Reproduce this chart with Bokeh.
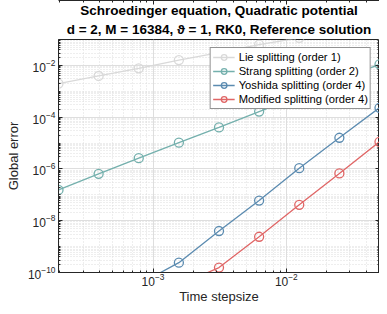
from bokeh.plotting import figure
from bokeh.models import Title, FixedTicker, LogAxis, Legend, LegendItem, Range1d
from bokeh.embed import file_html
from bokeh.resources import INLINE

# ---- data ----
dt = [0.05 / 2**8, 0.05 / 2**7, 0.05 / 2**6, 0.05 / 2**5, 0.05 / 2**4,
      0.05 / 2**3, 0.05 / 2**2, 0.05 / 2**1, 0.05]
lie = [1.98e-3, 3.9e-3, 7.7e-3, 1.6e-2, 3.1e-2, 6.3e-2, 1.15e-1, 2.0e-1, 3.5e-1]
strang = [1.55e-7, 6.5e-7, 2.6e-6, 1.03e-5, 4.0e-5, 1.65e-4, 6.6e-4, 2.7e-3, 1.1e-2]
yoshida = [3e-12, 9e-12, 3.5e-11, 2.4e-10, 4.0e-9, 6.0e-8, 1.07e-6, 1.6e-5, 2.3e-4]
modified = [1e-12, 4e-12, 1.2e-11, 3.2e-11, 1.55e-10, 2.4e-9, 4.1e-8, 6.7e-7, 1.12e-5]

names = ["Lie splitting (order 1)", "Strang splitting (order 2)",
         "Yoshida splitting (order 4)", "Modified splitting (order 4)"]
colors = ["#d9d9d9", "#74b0ad", "#5b8bb0", "#e06666"]

x_major = [1e-3, 1e-2]
x_minor = [m * 10.0**e for e in (-4, -3, -2) for m in range(2, 10)]
y_major = [1e-10, 1e-8, 1e-6, 1e-4, 1e-2]
y_minor = [m * 10.0**e for e in range(-10, -1) for m in range(1, 10)]

FONT = "Liberation Sans"
DARK = "#262626"

p = figure(width=379, height=306, x_axis_type="log", y_axis_type="log",
           x_range=Range1d(dt[0], dt[-1]), y_range=Range1d(1e-10, 1e-1),
           output_backend="svg", toolbar_location=None,
           min_border_left=58, min_border_right=0, min_border_top=0, min_border_bottom=0)

# titles (first added is nearest the plot)
t2 = Title(text="d = 2, M = 16384, \u03d1 = 1, RK0, Reference solution", align="center",
           text_font=FONT, text_font_size="13.5px", text_font_style="bold",
           text_color="black", standoff=5)
t1 = Title(text="Schroedinger equation, Quadratic potential", align="center",
           text_font=FONT, text_font_size="13.5px", text_font_style="bold",
           text_color="black", standoff=0)
p.add_layout(t2, "above")
p.add_layout(t1, "above")

p.xaxis[0].ticker = FixedTicker(ticks=x_major, minor_ticks=x_minor)
p.yaxis[0].ticker = FixedTicker(ticks=y_major, minor_ticks=y_minor)

def style_axis(ax, show_labels=True):
    ax.axis_line_color = DARK
    ax.major_tick_line_color = DARK
    ax.minor_tick_line_color = DARK
    ax.major_tick_in = 4
    ax.major_tick_out = 0
    ax.minor_tick_in = 2
    ax.minor_tick_out = 0
    ax.major_label_text_font = FONT
    ax.major_label_text_font_size = "12px"
    ax.major_label_text_color = DARK
    ax.axis_label_text_font = FONT
    ax.axis_label_text_font_size = "13px"
    ax.axis_label_text_font_style = "normal"
    ax.axis_label_text_color = DARK
    if not show_labels:
        ax.major_label_text_font_size = "1px"
        ax.major_label_text_alpha = 0
        ax.major_label_standoff = 0

style_axis(p.xaxis[0])
style_axis(p.yaxis[0])
p.xaxis[0].axis_label = "Time stepsize"
p.yaxis[0].axis_label = "Global error"
p.xaxis[0].major_label_standoff = 0
p.xaxis[0].axis_label_standoff = 0
p.yaxis[0].major_label_standoff = 3
p.yaxis[0].axis_label_standoff = 4

top_ax = LogAxis(ticker=FixedTicker(ticks=x_major, minor_ticks=x_minor))
right_ax = LogAxis(ticker=FixedTicker(ticks=y_major, minor_ticks=y_minor))
style_axis(top_ax, False)
style_axis(right_ax, False)
p.add_layout(top_ax, "above")
p.add_layout(right_ax, "right")

p.xgrid.grid_line_color = "#dedede"
p.ygrid.grid_line_color = "#dedede"
p.xgrid.minor_grid_line_color = "#dcdcdc"
p.ygrid.minor_grid_line_color = "#dcdcdc"
p.xgrid.minor_grid_line_dash = "1 2"
p.ygrid.minor_grid_line_dash = "1 2"
p.outline_line_color = DARK
p.outline_line_width = 1

items = []
for name, ys, c in zip(names, [lie, strang, yoshida, modified], colors):
    r1 = p.line(dt, ys, line_color=c, line_width=1.3)
    r2 = p.scatter(dt, ys, marker="circle", size=9, fill_color=None,
                   line_color=c, line_width=1.3)
    items.append(LegendItem(label=name, renderers=[r1, r2]))

leg = Legend(items=items, location="top_right", margin=8, padding=2, spacing=0,
             glyph_width=22, glyph_height=14, label_height=14, label_standoff=4,
             label_text_font=FONT, label_text_font_size="11.2px", label_text_color="black",
             border_line_color=DARK, border_line_width=1, background_fill_alpha=1)
p.add_layout(leg, "center")

open("out.html", "w").write(file_html(p, INLINE))
